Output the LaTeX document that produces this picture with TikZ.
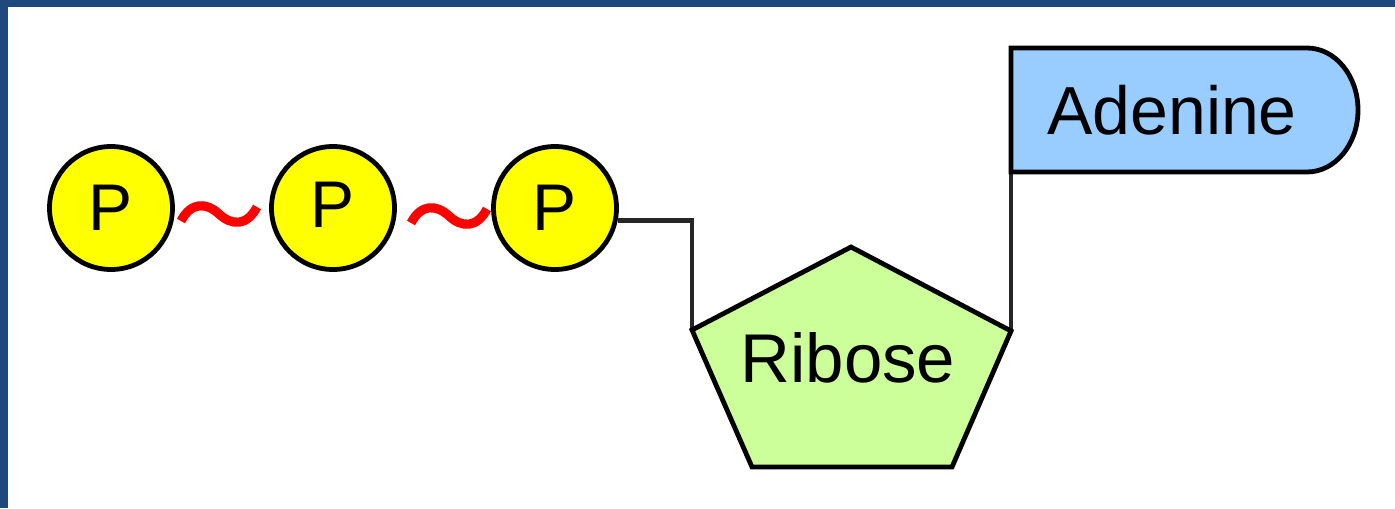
\documentclass[tikz,border=0pt]{standalone}
\usepackage{fontspec}
\setmainfont{Liberation Sans}
\usetikzlibrary{calc}
\definecolor{framecol}{RGB}{31,73,125}
\definecolor{phoscol}{RGB}{255,255,0}
\definecolor{sugarcol}{RGB}{204,255,153}
\definecolor{basecol}{RGB}{153,204,255}
\tikzset{
  phos/.style={circle, draw=black, fill=phoscol, line width=2.4pt,
    minimum size=61.5pt, inner sep=0pt, font=\fontsize{33}{33}\selectfont},
  sugar/.style={draw=black, fill=sugarcol, line width=2.4pt, line join=miter},
  basebox/.style={draw=black, fill=basecol, line width=2.4pt},
  link/.style={draw=black!85, line width=2.4pt},
  tilde/.style={draw=red, line width=4.6pt},
  lbl/.style={inner sep=0pt, anchor=base, font=\fontsize{34}{34}\selectfont}
}
\begin{document}
\begin{tikzpicture}[x=0.5pt, y=-0.5pt]
\useasboundingbox (0,0) rectangle (1395,508);
% frame strips along the top and left edges
\fill[framecol] (0,0) rectangle (1395,7);
\fill[framecol] (0,0) rectangle (8,508);

% phosphate groups
\node[phos] (p1) at (111,208) {P};
\node[phos] (p2) at (333,208) {\raisebox{3.5pt}{P}};
\node[phos] (p3) at (555,208) {P};

% high-energy bonds between the phosphates
\draw[tilde] (181,221) .. controls (191,202) and (206,202) .. (219,214)
                       .. controls (232,226) and (247,226) .. (257,207);
\draw[tilde] (411,223) .. controls (421,204) and (436,204) .. (449,216)
                       .. controls (462,228) and (477,228) .. (487,209);

% ribose ring corners
\coordinate (rt)  at (851,247);
\coordinate (rl)  at (692,330);
\coordinate (rr)  at (1011,331);
\coordinate (rbr) at (952,467);
\coordinate (rbl) at (752,467);
\coordinate (adebl) at (1011,172);

% phosphate to sugar, sugar to base
\draw[link] (p3.-11) -| (rl);
\draw[link] (rr) -- (adebl);

% ribose
\draw[sugar] (rt) -- (rr) -- (rbr) -- (rbl) -- (rl) -- cycle;
\node[lbl, font=\fontsize{34.5}{34.5}\selectfont] (rib) at (848,382) {Ribose};

% adenine
\draw[basebox] (1011,48) -- (1307,48)
               arc[start angle=90, end angle=-90, x radius=25.5pt, y radius=31pt]
               -- (adebl) -- cycle;
\node[lbl] (ade) at (1172,134) {Adenine};
\end{tikzpicture}
\end{document}
